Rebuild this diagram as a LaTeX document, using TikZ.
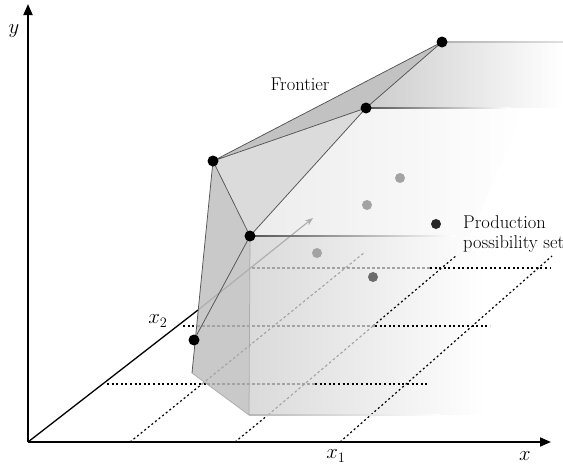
\documentclass[tikz,border=0pt]{standalone}
\usetikzlibrary{fadings,arrows.meta}
\definecolor{edgec}{gray}{0.33}
\definecolor{topface}{gray}{0.76}
\definecolor{sideface}{gray}{0.86}
\definecolor{leftface}{gray}{0.79}
\definecolor{frontface}{gray}{0.855}
\definecolor{midface}{gray}{0.925}
\definecolor{roofface}{gray}{0.80}
\definecolor{dotlight}{gray}{0.64}
\definecolor{dotmid}{gray}{0.42}
\definecolor{hiddengray}{gray}{0.64}
\definecolor{arrowgray}{gray}{0.68}
\tikzfading[name=fadeR, left color=transparent!0, middle color=transparent!30, right color=transparent!100]
\begin{document}
\begin{tikzpicture}[x=1pt,y=-1pt,
  axisline/.style={line width=1.8pt, -{Triangle[length=11pt,width=9pt]}},
  gridline/.style={line width=1.2pt, dash pattern=on 2pt off 2.6pt},
  hiddenline/.style={hiddengray, line width=1.1pt, dash pattern=on 2.6pt off 2.4pt},
  edgeline/.style={draw=edgec, line width=0.75pt, line join=round},
  vdot/.style={circle, fill=#1, inner sep=0pt, minimum size=11pt},
  lbl/.style={font=\fontsize{18.5}{22}\selectfont, inner sep=0pt},
  mlbl/.style={font=\fontsize{20}{22}\selectfont, inner sep=0pt},
]
\useasboundingbox (0,0) rectangle (563,471);

% geometry
\coordinate (O) at (28,442);
\coordinate (Ytip) at (28,4);
\coordinate (Xtip) at (551,442);
\coordinate (Zin) at (198,310);
\coordinate (Ztip) at (313,218);
\coordinate (A) at (194,340);
\coordinate (B) at (213,161);
\coordinate (C) at (250,236);
\coordinate (D) at (366,108);
\coordinate (E) at (442,42);
\coordinate (L) at (192,373);
\coordinate (F) at (249,415);

% faces
\fill[roofface, path fading=fadeR] (D) -- (E) -- (563,42) -- (563,108) -- cycle;
\fill[midface, path fading=fadeR] (C) -- (D) -- (525,108) -- (470,236) -- cycle;
\fill[frontface, path fading=fadeR] (C) -- (485,236) -- (485,415) -- (F) -- cycle;
\fill[leftface] (B) -- (C) -- (F) -- (L) -- cycle;
\fill[sideface] (B) -- (D) -- (C) -- cycle;
\fill[topface] (B) -- (E) -- (D) -- cycle;

% floor grid: visible parts
\coordinate (h1a) at (107,384); \coordinate (h1b) at (207,384);
\coordinate (h1c) at (315,384); \coordinate (h1d) at (427,384);
\coordinate (h2a) at (183,326); \coordinate (h2b) at (197,326);
\coordinate (h2c) at (375,326); \coordinate (h2d) at (490,326);
\coordinate (h3a) at (252,268); \coordinate (h3b) at (430,268);
\coordinate (h3c) at (550,268);
\coordinate (d1a) at (130,442); \coordinate (d1b) at (202,384);
\coordinate (d1c) at (365,252);
\coordinate (d2a) at (235,442); \coordinate (d2b) at (268,415);
\coordinate (d2c) at (373,326); \coordinate (d2d) at (457,255);
\coordinate (d3a) at (340,442); \coordinate (d3b) at (552,256);

\draw[gridline] (h1a) -- (h1b);
\draw[gridline] (h1c) -- (h1d);
\draw[gridline] (h2a) -- (h2b);
\draw[gridline] (h2c) -- (h2d);
\draw[gridline] (h3b) -- (h3c);
\draw[gridline] (d1a) -- (d1b);
\draw[gridline] (d2a) -- (d2b);
\draw[gridline] (d2c) -- (d2d);
\draw[gridline] (d3a) -- (d3b);
% floor grid: parts seen through the set
\draw[hiddenline] (h1b) -- (h1c);
\draw[hiddenline] (h2b) -- (h2c);
\draw[hiddenline] (h3a) -- (h3b);
\draw[hiddenline] (d1b) -- (d1c);
\draw[hiddenline] (d2b) -- (d2c);

% axes
\draw[axisline] (O) -- (Ytip);
\draw[axisline] (O) -- (Xtip);
\draw[line width=1.3pt] (O) -- (Zin);
\draw[arrowgray, line width=1.1pt, -{Stealth[length=8pt,width=6pt]}] (Zin) -- (Ztip);

% horizontal edges fading to the right
\shade[left color=gray!60, right color=gray!25] (E) ++(0,-0.5) rectangle (563,42.5);
\shade[left color=edgec, right color=white] (D) ++(0,-0.45) rectangle (510,108.45);
\shade[left color=edgec, right color=white] (C) ++(0,-0.45) rectangle (455,236.45);
\shade[left color=gray!55, right color=white] (F) ++(0,-0.6) rectangle (440,415.6);

% polyhedron edges
\draw[edgeline] (B) -- (E) -- (D) -- cycle;
\draw[edgeline] (B) -- (C) -- (D);
\draw[edgeline] (A) -- (C);
\draw[edgeline] (B) -- (L);
\draw[draw=gray!65, line width=0.75pt] (L) -- (F) -- (C);

% points
\node[vdot=black] (dA) at (A) {};
\node[vdot=black] (dB) at (B) {};
\node[vdot=black] (dC) at (C) {};
\node[vdot=black] (dD) at (D) {};
\node[vdot=black] (dE) at (E) {};
\node[vdot=dotlight, minimum size=10pt] (p1) at (400,178) {};
\node[vdot=dotlight, minimum size=10pt] (p2) at (367,205) {};
\node[vdot=dotlight, minimum size=10pt] (p3) at (317,253) {};
\node[vdot=dotmid, minimum size=10pt] (p4) at (373,277) {};
\node[vdot=black!85, minimum size=10pt] (p5) at (436,224) {};

% labels
\node[lbl, anchor=base] (fr) at (300,90) {Frontier};
\node[lbl, anchor=base west] (pp1) at (463,228) {Production};
\node[lbl, anchor=base west] (pp2) at (463,248) {possibility set};
\node[mlbl] (ly) at (14,31) {$y$};
\node[mlbl] (lx) at (525,456) {$x$};
\node[mlbl] (lx1) at (336,456) {$x_1$};
\node[mlbl] (lx2) at (158,321) {$x_2$};
\end{tikzpicture}
\end{document}
